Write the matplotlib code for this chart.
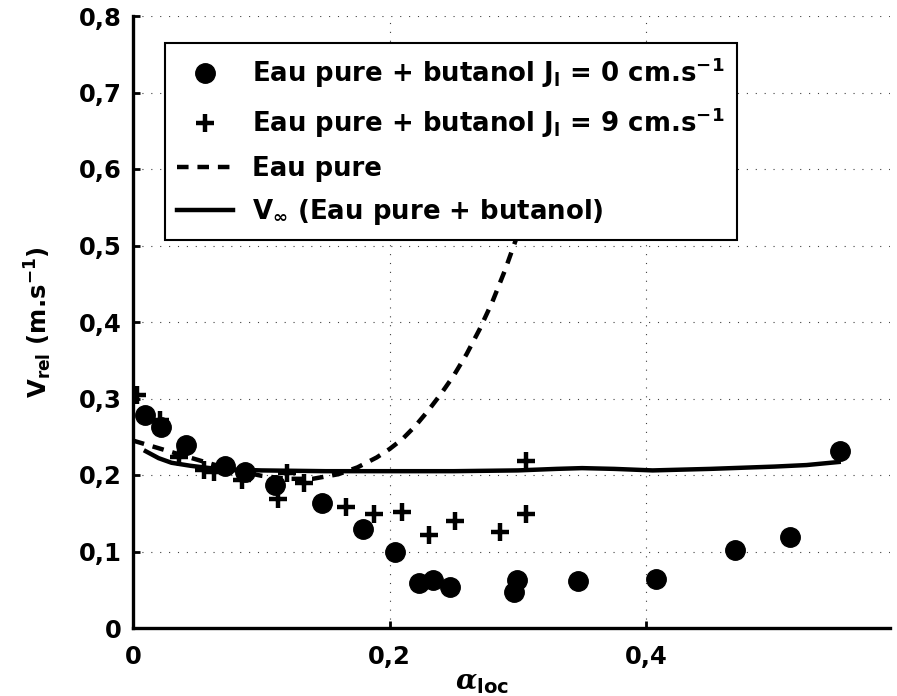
import matplotlib
matplotlib.use('Agg')
import matplotlib.pyplot as plt
from matplotlib.ticker import FixedLocator, FixedFormatter

plt.rcParams['font.family'] = ['DejaVu Sans']
plt.rcParams['font.weight'] = 'bold'
plt.rcParams['axes.labelweight'] = 'bold'
plt.rcParams['mathtext.fontset'] = 'custom'
plt.rcParams['mathtext.rm'] = 'DejaVu Sans:bold'
plt.rcParams['mathtext.bf'] = 'DejaVu Sans:bold'
plt.rcParams['mathtext.it'] = 'DejaVu Serif:italic'
plt.rcParams['mathtext.sf'] = 'DejaVu Sans:bold'
plt.rcParams['mathtext.default'] = 'rm'

# ---- data ----
x_j0 = [0.009, 0.022, 0.041, 0.072, 0.087, 0.111, 0.147, 0.179, 0.204, 0.223,
        0.234, 0.247, 0.299, 0.297, 0.347, 0.408, 0.469, 0.512, 0.551]
y_j0 = [0.279, 0.263, 0.239, 0.212, 0.204, 0.187, 0.163, 0.129, 0.099, 0.059,
        0.063, 0.053, 0.063, 0.047, 0.062, 0.064, 0.102, 0.119, 0.231]

x_j9 = [0.003, 0.021, 0.036, 0.055, 0.063, 0.085, 0.113, 0.120, 0.133, 0.166,
        0.188, 0.210, 0.231, 0.251, 0.286, 0.306, 0.306]
y_j9 = [0.304, 0.272, 0.224, 0.207, 0.204, 0.194, 0.168, 0.203, 0.189, 0.158,
        0.149, 0.152, 0.122, 0.140, 0.125, 0.149, 0.218]

x_pure = [0.0, 0.02, 0.04, 0.06, 0.08, 0.10, 0.12, 0.14, 0.16, 0.175, 0.19, 0.20,
          0.21, 0.22, 0.23, 0.24, 0.25, 0.26, 0.27, 0.28, 0.29, 0.30, 0.31]
y_pure = [0.245, 0.235, 0.225, 0.215, 0.206, 0.199, 0.195, 0.195, 0.201, 0.210, 0.223, 0.234,
          0.247, 0.264, 0.284, 0.306, 0.330, 0.358, 0.390, 0.426, 0.468, 0.515, 0.565]

x_vinf = [0.01, 0.02, 0.03, 0.045, 0.06, 0.08, 0.10, 0.15, 0.20, 0.25, 0.30, 0.33,
          0.35, 0.375, 0.405, 0.45, 0.50, 0.525, 0.55]
y_vinf = [0.231, 0.222, 0.216, 0.212, 0.209, 0.207, 0.206, 0.205, 0.205, 0.205, 0.206, 0.208,
          0.209, 0.208, 0.206, 0.208, 0.211, 0.213, 0.217]

x_ticks = [0, 0.2, 0.4]
x_ticklabels = ['0', '0,2', '0,4']
y_ticks = [0, 0.1, 0.2, 0.3, 0.4, 0.5, 0.6, 0.7, 0.8]
y_ticklabels = ['0', '0,1', '0,2', '0,3', '0,4', '0,5', '0,6', '0,7', '0,8']

labels = [r'Eau pure + butanol J$_{\mathrm{l}}$ = 0 cm.s$^{\mathrm{-1}}$',
          r'Eau pure + butanol J$_{\mathrm{l}}$ = 9 cm.s$^{\mathrm{-1}}$',
          'Eau pure',
          r'V$_{\infty}$ (Eau pure + butanol)']

# ---- figure ----
fig = plt.figure(figsize=(8.97, 6.96), dpi=100)
ax = fig.add_axes([133/897, 68/696, (890-133)/897, 612/696])

h1, = ax.plot(x_j0, y_j0, 'o', color='k', markersize=14, linestyle='none', label=labels[0])
h2, = ax.plot(x_j9, y_j9, '+', color='k', markersize=13, markeredgewidth=3.2, linestyle='none', label=labels[1])
h3, = ax.plot(x_pure, y_pure, color='k', lw=3.2, dashes=(2.6, 2.0), label=labels[2])
h4, = ax.plot(x_vinf, y_vinf, color='k', lw=3.2, label=labels[3])

ax.set_xlim(0, 0.59)
ax.set_ylim(0, 0.8)
ax.xaxis.set_major_locator(FixedLocator(x_ticks))
ax.xaxis.set_major_formatter(FixedFormatter(x_ticklabels))
ax.yaxis.set_major_locator(FixedLocator(y_ticks))
ax.yaxis.set_major_formatter(FixedFormatter(y_ticklabels))

for s in ['top', 'right']:
    ax.spines[s].set_visible(False)
for s in ['left', 'bottom']:
    ax.spines[s].set_linewidth(2.4)

ax.tick_params(direction='in', length=5, width=2, labelsize=17.5)
ax.tick_params(axis='x', pad=12)
ax.tick_params(axis='y', pad=8)
ax.grid(True, color='0.25', linewidth=0.8, dashes=(1, 7))
ax.set_axisbelow(True)

ax.set_ylabel(r'V$_{\mathrm{rel}}$ (m.s$^{\mathrm{-1}}$)', fontsize=17.5, fontweight='bold')
ax.yaxis.set_label_coords(-0.105, 0.5)
ax.set_xlabel(r'$\mathit{\alpha}_{\mathrm{loc}}$', fontsize=20)
ax.xaxis.set_label_coords((482-133)/757, -0.065)

leg = ax.legend(handles=[h1, h2, h3, h4], loc='upper left',
                bbox_to_anchor=((165-133)/757, (628-43)/612), borderaxespad=0,
                fontsize=18.7, frameon=True, fancybox=False, framealpha=1,
                edgecolor='k', handlelength=2.15, handletextpad=0.72,
                labelspacing=0.6, borderpad=0.48, numpoints=1)
leg.get_frame().set_linewidth(1.5)
leg.set_zorder(10)

fig.savefig('out.png', dpi=100)
